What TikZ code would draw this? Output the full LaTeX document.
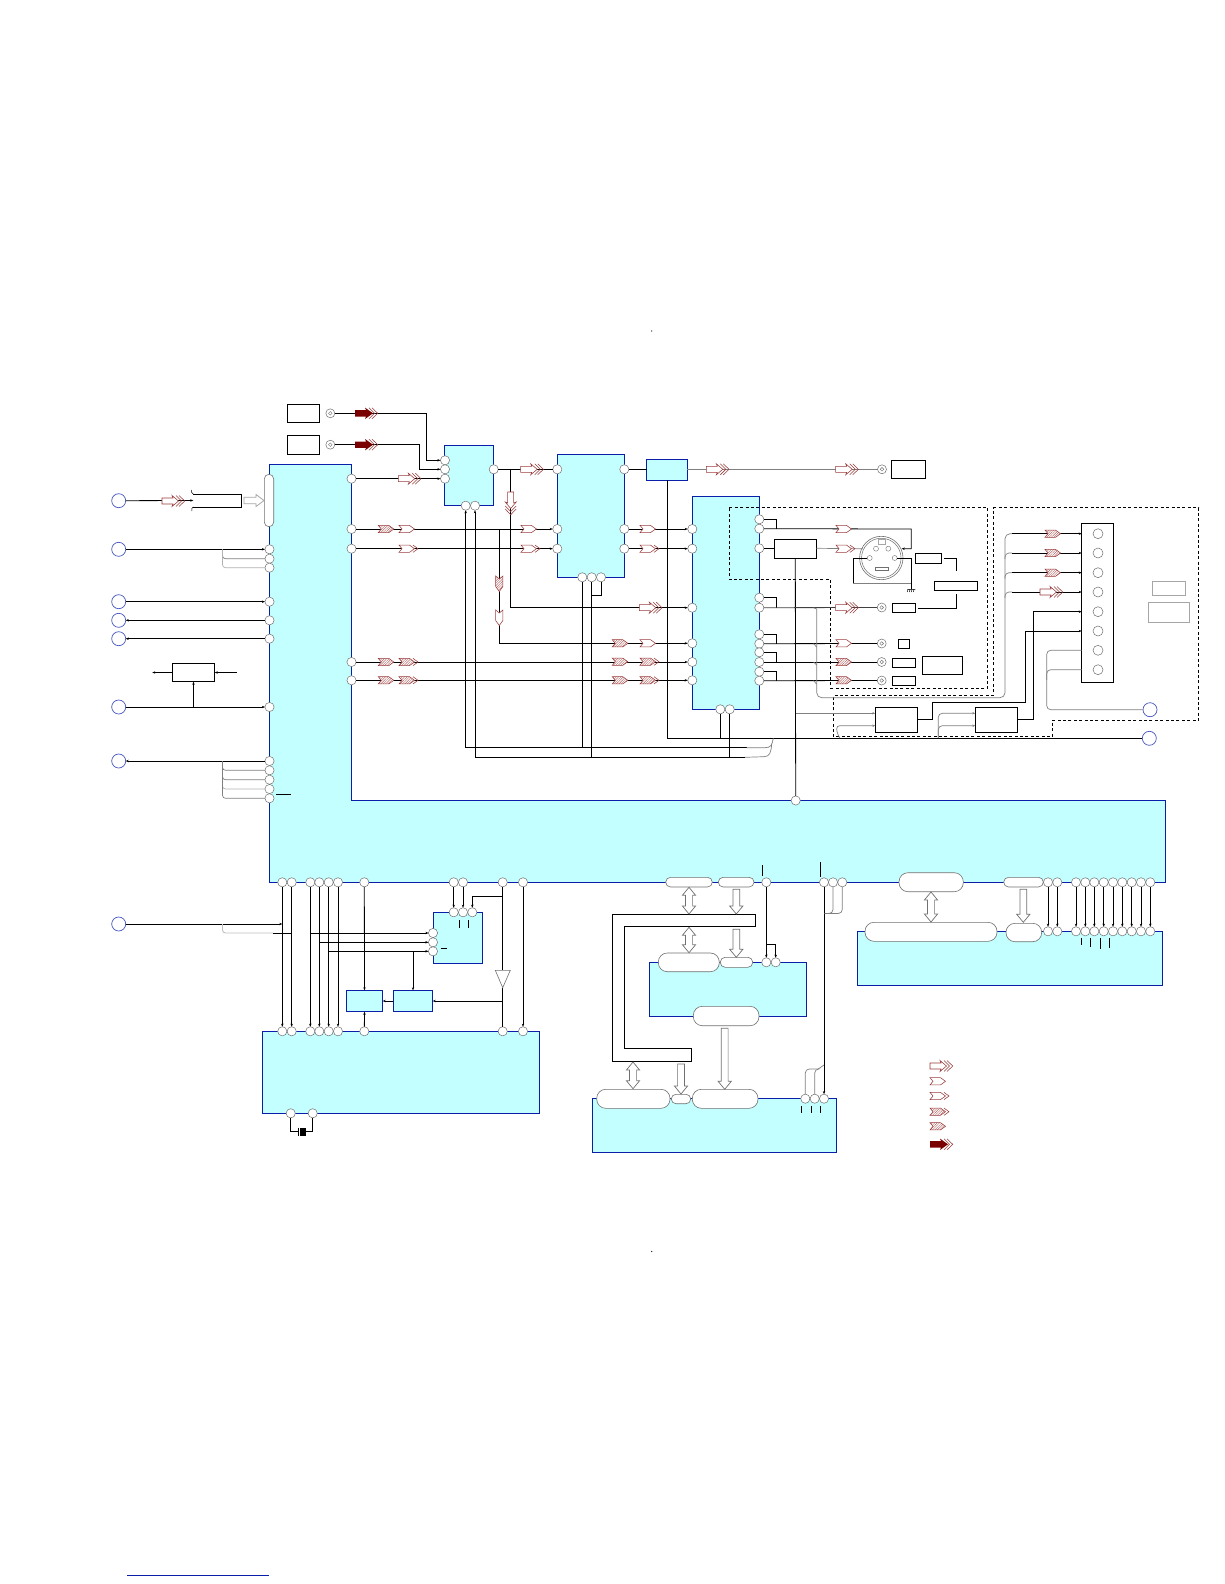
\documentclass[tikz,border=0pt]{standalone}
\usetikzlibrary{patterns.meta,arrows.meta,calc}
\definecolor{blkfill}{HTML}{C4FFFF}
\definecolor{blkline}{HTML}{0A1EAA}
\definecolor{sigred}{HTML}{9A3A3A}
\definecolor{hatchred}{HTML}{B86A6A}
\definecolor{darkred}{HTML}{7A0000}
\definecolor{portgray}{HTML}{707070}
\tikzset{
  wire/.style={draw=black,line width=.8pt},
  wa/.style={wire,-{Stealth[length=3pt,width=2.4pt]}},
  gwire/.style={draw=black!50,line width=.7pt},
  blk/.style={draw=blkline,fill=blkfill,line width=.9pt,inner sep=0pt,outer sep=0pt},
  plainbox/.style={draw=black,fill=white,line width=.8pt,inner sep=0pt,outer sep=0pt},
  graybox/.style={draw=black!35,fill=white,line width=.8pt,inner sep=0pt,outer sep=0pt},
  pill/.style={draw=portgray,fill=white,line width=.6pt,inner sep=0pt,outer sep=0pt},
  port/.style={circle,draw=portgray,fill=white,line width=.5pt,minimum size=9.2pt,inner sep=0pt,outer sep=0pt},
  offpage/.style={circle,draw=blkline!75,fill=white,line width=.7pt,minimum size=14pt,inner sep=0pt,outer sep=0pt},
  coax/.style={circle,draw=portgray,fill=white,line width=.5pt,minimum size=9pt,inner sep=0pt,outer sep=0pt},
  pin/.style={circle,draw=portgray,fill=white,line width=.4pt,minimum size=5pt,inner sep=0pt,outer sep=0pt},
  dashregion/.style={draw=black,line width=.8pt,dash pattern=on 3pt off 2.4pt},
  busarrow/.style={draw=portgray,fill=white,line width=.7pt},
  sig/.style={draw=sigred,line width=.55pt},
  hatch/.style={pattern={Lines[angle=45,distance=1.7pt,line width=.45pt]},pattern color=hatchred},
  sigA/.pic={\draw[sig,fill=white] (0,-3)--(11,-3)--(10,-5.5)--(16.5,0)--(10,5.5)--(11,3)--(0,3)--cycle;
             \draw[sig] (14,-5.5)--(19.5,0)--(14,5.5) (17,-5.5)--(22.7,0)--(17,5.5);},
  sigB/.pic={\draw[sig,fill=white] (0,-3.6)--(10.5,-3.6)--(15.5,0)--(10.5,3.6)--(0,3.6)--(3,0)--cycle;},
  sigC/.pic={\draw[sig,fill=white] (0,-3.6)--(10.5,-3.6)--(15.5,0)--(10.5,3.6)--(0,3.6)--(3,0)--cycle;
             \draw[sig] (14,-3.6)--(19,0)--(14,3.6);},
  sigD/.pic={\path[fill=white] (0,-3.6)--(10.5,-3.6)--(15.5,0)--(10.5,3.6)--(0,3.6)--(3,0)--cycle;
             \draw[sig,hatch] (0,-3.6)--(10.5,-3.6)--(15.5,0)--(10.5,3.6)--(0,3.6)--(3,0)--cycle;
             \draw[sig] (14,-3.6)--(19,0)--(14,3.6);},
  sigE/.pic={\path[fill=white] (0,-3.6)--(10.5,-3.6)--(15.5,0)--(10.5,3.6)--(0,3.6)--(3,0)--cycle;
             \draw[sig,hatch] (0,-3.6)--(10.5,-3.6)--(15.5,0)--(10.5,3.6)--(0,3.6)--(3,0)--cycle;},
  sigF/.pic={\draw[sig] (14,-5.5)--(19.5,0)--(14,5.5) (17,-5.5)--(22.7,0)--(17,5.5);
             \fill[darkred] (0,-3.2)--(11,-3.2)--(10,-5.7)--(18,0)--(10,5.7)--(11,3.2)--(0,3.2)--cycle;},
}
% box from two corners: style, name, x1, y1, x2, y2
\newcommand{\boxat}[6]{\node[#1,minimum width={#5pt-#3pt},minimum height={#6pt-#4pt}] (#2) at ({(#3+#5)/2},{(#4+#6)/2}) {};}
% hollow bus arrows
\newcommand{\downarr}[3]{\draw[busarrow] (#1-3.4,#2)--(#1+3.4,#2)--(#1+3.4,#3-8)--(#1+6.6,#3-8)--(#1,#3)--(#1-6.6,#3-8)--(#1-3.4,#3-8)--cycle;}
\newcommand{\dblarr}[3]{\draw[busarrow] (#1,#2)--(#1+6.6,#2+8)--(#1+3.6,#2+8)--(#1+3.6,#3-8)--(#1+6.6,#3-8)--(#1,#3)--(#1-6.6,#3-8)--(#1-3.6,#3-8)--(#1-3.6,#2+8)--(#1-6.6,#2+8)--cycle;}
\begin{document}
\begin{tikzpicture}[x=1pt,y=-1pt]
\useasboundingbox (0,0) rectangle (1224,1584);

% ---------- blocks ----------
\draw[draw=blkline,fill=blkfill,line width=.9pt] (269.5,464.5)--(351.5,464.5)--(351.5,800.5)--(1165.5,800.5)--(1165.5,882.3)--(269.5,882.3)--cycle;
\boxat{blk}{sB}{444.3}{445.3}{493.3}{505.5}
\boxat{blk}{bB}{557.3}{454.3}{624.3}{577.3}
\boxat{blk}{tB}{646.7}{459.3}{687.3}{480.3}
\boxat{blk}{cB}{692.3}{496.7}{759.3}{709.3}
\boxat{blk}{dB}{433.3}{912.3}{482.3}{963.3}
\boxat{blk}{eB}{346.3}{990.3}{382.7}{1011.7}
\boxat{blk}{fB}{393.3}{990.3}{432.7}{1011.7}
\boxat{blk}{lB}{262.3}{1031.3}{539.3}{1113.3}
\boxat{blk}{gB}{649.3}{962.3}{806.7}{1016.3}
\boxat{blk}{hB}{592.3}{1098.3}{836.7}{1152.7}
\boxat{blk}{iB}{857.3}{931.3}{1162.7}{985.3}

% ---------- dashed regions ----------
\draw[dashregion] (729.3,507.3)--(987.7,507.3)--(987.7,688.3)--(830.7,688.3)--(830.7,579.3)--(729.3,579.3)--cycle;
\draw[dashregion] (993.3,507.7)--(1198.7,507.7)--(1198.7,720.3)--(1052.3,720.3)--(1052.3,736.7)--(833.3,736.7)--(833.3,695.3)--(993.3,695.3)--cycle;

% ---------- plain boxes ----------
\boxat{plainbox}{top1}{287.3}{404.3}{319.7}{422.7}
\boxat{plainbox}{top2}{287.3}{435.3}{319.7}{454.3}
\boxat{plainbox}{top3}{891.7}{460.3}{925}{478.3}
\boxat{plainbox}{midL}{172.3}{663.3}{214.7}{681.7}
\boxat{plainbox}{sBuf}{774.3}{539.3}{816.3}{558.3}
\boxat{plainbox}{r1}{892.3}{603.3}{915.7}{612.3}
\boxat{plainbox}{r2}{898.3}{639.7}{909.7}{648.7}
\boxat{plainbox}{r3}{892.3}{658.3}{915.7}{667.7}
\boxat{plainbox}{r4}{892.3}{676.3}{915.7}{685.7}
\boxat{plainbox}{r5}{922.3}{656.3}{962.7}{674.3}
\boxat{plainbox}{s1}{915.3}{553.3}{941.7}{563.3}
\boxat{plainbox}{s2}{934.3}{581.3}{977.3}{590.3}
\boxat{plainbox}{aB}{875.3}{707.3}{917.7}{732.3}
\boxat{plainbox}{zB}{975.3}{707.3}{1017.7}{732.3}
\boxat{plainbox}{conn}{1081.7}{523.3}{1113.3}{682.3}
\boxat{graybox}{g1}{1152.3}{581.7}{1185}{595}
\boxat{graybox}{g2}{1148.3}{602.3}{1189.3}{622.3}
\node[inner sep=0pt,minimum width=48pt,minimum height=12.4pt] (inBox) at (217.5,500.5) {};
\draw[wire] (inBox.north west)--(inBox.north east)--(inBox.south east)--(inBox.south west);
\draw[wire,line width=.5pt] (inBox.north west) ..controls (192,494.3) and (191,491) .. (191.5,490)
  (inBox.south west) ..controls (192,506.7) and (191,510) .. (191.8,511);

% ---------- pills ----------
\boxat{pill,rounded corners=4.6pt}{pV}{264.3}{474.3}{273.7}{526.7}
\boxat{pill,rounded corners=4.8pt}{p1}{665.7}{877.3}{712.3}{887}
\boxat{pill,rounded corners=4.8pt}{p2}{718.3}{877.3}{754}{887}
\boxat{pill,rounded corners=9pt}{p3}{899}{872.7}{963.3}{891.7}
\boxat{pill,rounded corners=4.8pt}{p4}{1003.7}{877.3}{1043.3}{887}
\boxat{pill,rounded corners=9pt}{p5}{658.3}{953}{719.3}{971.7}
\boxat{pill,rounded corners=4.8pt}{p6}{720.3}{957.3}{752.7}{967.3}
\boxat{pill,rounded corners=9pt}{p7}{693.3}{1006.3}{759}{1025.7}
\boxat{pill,rounded corners=9pt}{p8}{596.7}{1089.3}{670}{1108.3}
\boxat{pill,rounded corners=4.6pt}{p9}{671.3}{1094.3}{690.7}{1103.7}
\boxat{pill,rounded corners=9pt}{p10}{692.3}{1089.3}{758}{1108.3}
\boxat{pill,rounded corners=9pt}{p11}{865}{922.3}{997}{941.3}
\boxat{pill,rounded corners=9pt}{p12}{1006}{923.3}{1041.7}{941.7}

% ---------- bus shape and bus arrows ----------
\draw[draw=black,fill=white,line width=.9pt] (612.3,914.3)--(755.7,914.3)--(755.7,926.3)--(624.3,926.3)--(624.3,1048.7)--(691.3,1048.7)--(691.3,1061.3)--(612.3,1061.3)--cycle;
\dblarr{689}{887.3}{914}
\downarr{736.3}{889.3}{914}
\dblarr{689}{927.3}{952.7}
\downarr{736.3}{929.3}{957.3}
\downarr{724.7}{1028.3}{1089.3}
\downarr{681}{1064}{1094}
\dblarr{633}{1062}{1088.7}
\dblarr{931}{892}{922}
\downarr{1023.3}{889.3}{922.3}
\draw[draw=black!35,fill=white,line width=.8pt] (244,497.3)--(256,497.3)--(256,494.5)--(264,500.5)--(256,506.5)--(256,503.7)--(244,503.7)--cycle;

% ---------- ports ----------
\foreach \n/\x/\y in {
  mL1/269.5/549.3,mL2/269.5/558.7,mL3/269.5/567.7,mL4/269.5/601.7,mL5/269.5/620.3,mL6/269.5/638.7,mL7/269.5/707,
  mL8/269.5/761,mL9/269.5/770.3,mL10/269.5/779.7,mL11/269.5/789,mL12/269.5/798.3,
  mR1/351.5/478.7,mR2/351.5/529,mR3/351.5/548.7,mR4/351.5/662,mR5/351.5/680.3,mT/795.7/800.5,
  sL1/445/460.3,sL2/445/469.3,sL3/445/478.7,sR/493.7/469.3,sB1/465.7/505.7,sB2/475/505.7,
  bL1/557.3/469.3,bL2/557.3/529,bL3/557.3/548.7,bR1/624.3/469.3,bR2/624.3/529,bR3/624.3/548.7,
  bB1/582.3/577.3,bB2/591.7/577.3,bB3/601/577.3,
  cL1/692.3/529,cL2/692.3/548.7,cL3/692.3/607.7,cL4/692.3/643.3,cL5/692.3/662,cL6/692.3/680.3,
  cR1/759.3/519.3,cR2/759.3/528.7,cR3/759.3/548.3,cR4/759.3/597.7,cR5/759.3/607.7,cR6/759.3/634.3,
  cR7/759.3/643.7,cR8/759.3/652.3,cR9/759.3/662,cR10/759.3/671.7,cR11/759.3/680.7,
  cB1/720.3/709.3,cB2/729.7/709.3,
  dL1/433/933,dL2/433/942.3,dL3/433/951.3,dT1/453.7/912.3,dT2/463/912.3,dT3/472.3/912.3,
  xA/290.7/1113.3,xB/312.7/1113.3,
  gP1/766.3/962.3,gP2/775.7/962.3,hP1/805.3/1098.7,hP2/814.7/1098.7,hP3/824/1098.7,
  mD1/766.3/882.3,mD2/824/882.3,mD3/833/882.3,mD4/842.3/882.3}
  {\node[port] (\n) at (\x,\y) {};}
\foreach \n/\x in {a/282.3,b/291.7,c/310.3,d/319.3,e/328.7,f/338,g/364.3,j/502.7,k/523}
  {\node[port] (mB\n) at (\x,882.3) {};\node[port] (lP\n) at (\x,1031.3) {};}
\node[port] (mBh) at (453.7,882.3) {};
\node[port] (mBi) at (463,882.3) {};
\foreach \n/\x in {a/1048,b/1057.3,c/1076,d/1085.3,e/1094.3,f/1103.7,g/1113,h/1122.3,m/1131.7,n/1141,o/1150.3}
  {\node[port] (mC\n) at (\x,882.3) {};\node[port] (iP\n) at (\x,931.3) {};}
\foreach \n/\y in {1/533.7,2/553,3/572.7,4/592,5/611.7,6/631,7/650.3,8/669.7}
  {\node[port,minimum size=10pt] (cn\n) at (1098,\y) {};}
\foreach \n/\x/\y in {b1/118.7/500.7,b2/118.7/549.3,b3/118.7/601.7,b4/118.7/620.3,b5/118.7/638.7,b6/118.7/707,b7/118.7/761,b8/118.7/924,b9/1150/709.7,b10/1149.3/738.3}
  {\node[offpage] (\n) at (\x,\y) {};}
\foreach \n/\x/\y in {co1/330.3/413.3,co2/330.3/444.7,co3/882/469.3,co4/881.7/607.5,co5/881.7/643.5,co6/881.7/662,co7/881.7/680.5}
  {\node[coax] (\n) at (\x,\y) {};\draw[draw=portgray,line width=.4pt] (\n.center) circle (1.8);}

% ---------- S-video connector ----------
\node[circle,draw=portgray,fill=white,line width=.6pt,minimum size=43.4pt,inner sep=0pt] (sv) at (881.3,558) {};
\node[circle,draw=portgray,line width=.5pt,minimum size=39.5pt,inner sep=0pt] at (881.3,558) {};
\node[pin] (svA) at (876,548.7) {};
\node[pin] (svB) at (888.3,548.7) {};
\node[pin] (svC) at (869.7,558) {};
\node[pin] (svD) at (894.7,558) {};
\draw[draw=black!35,fill=white,line width=.5pt] (878.7,539)rectangle(885.3,544.3);
\draw[draw=portgray,fill=white,line width=.6pt] (875.3,567.3)rectangle(888.7,570.7);

% ---------- wires: top ----------
\coordinate (t1) at (426.3,413.3);
\coordinate (t2) at (419.3,444.7);
\draw[wa] (co1) -- (t1) |- (sL1);
\draw[wa] (co2) -- (t2) |- (sL2);
\draw[wa] (mR1) -- (sL3);
\draw[wa] (b1) -- (inBox.west);
\draw[wire] (sR) -- (bL1);
\draw[wire] (bR1) -- (bR1 -| tB.west);
\draw[gwire] (tB.east |- bR1) -- (co3);
\coordinate (k1) at (510.7,469.3);
\coordinate (k2) at (499.3,529);
\draw[wa] (k1) |- (cL3);
\draw[wa] (k2) |- (cL4);
\draw[wa] (mR2) -- (bL2);
\draw[wa] (mR3) -- (bL3);
\draw[wa] (mR4) -- (cL5);
\draw[wa] (mR5) -- (cL6);
\draw[wa] (bR2) -- (cL1);
\draw[wa] (bR3) -- (cL2);

% ---------- wires: left ----------
\coordinate (jA) at (222.5,549.3);
\coordinate (jB) at (222.5,761);
\coordinate (jC) at (222.5,924);
\draw[wa] (b2) -- (mL1);
\draw[gwire,rounded corners=3pt] (jA) |- (mL2);
\draw[draw=black!30,line width=.7pt,rounded corners=3pt] (jA) |- (mL3);
\draw[wa] (b3) -- (mL4);
\draw[wa] (mL5) -- (b4);
\draw[wa] (mL6) -- (b5);
\draw[wa] (b6) -- (mL7);
\draw[wa] (mL8) -- (b7);
\draw[gwire,rounded corners=3pt] (jB) |- (mL9);
\draw[gwire,rounded corners=3pt] (jB) |- (mL10);
\draw[draw=black!30,line width=.7pt,rounded corners=3pt] (jB) |- (mL11);
\draw[gwire,rounded corners=3pt] (jB) |- (mL12);
\draw[wire] (276,794.3) -- (290.7,794.3);
\draw[wire,-{Stealth[length=3pt,width=2.4pt]}] (midL.west) -- (152.3,672.5);
\draw[wire,-{Stealth[length=3pt,width=2.4pt]}] (236.7,672.5) -- (midL.east);
\draw[wa] (midL.south |- b6) -- (midL.south);

% ---------- wires: buses below blocks ----------
\coordinate (busL) at (746.7,747.7);
\coordinate (busM) at (745,757.3);
\coordinate (b3j) at (591.7,595);
\draw[wa] (sB1 |- busL) -- (sB1);
\draw[wa] (sB2 |- busM) -- (sB2);
\draw[wire] (sB1 |- busL) -- (busL);
\draw[wire] (sB2 |- busM) -- (busM);
\draw[wire] (bB1) -- (bB1 |- busL);
\draw[wire] (bB2) -- (bB2 |- busM);
\draw[wire] (bB3) |- (b3j);
\draw[wire] (tB.south) |- (b10);
\draw[wire] (cB1) -- (cB1 |- b10);
\draw[wire] (cB2) -- (cB2 |- busM);
\coordinate (bj) at (773.3,738.3);
\coordinate (bjb) at (771.7,744);
\draw[gwire] (bj) ..controls (772,745) and (771,747.7) .. (765,747.7) -- (busL);
\draw[gwire] (bjb) ..controls (771,752) and (770,756.7) .. (764,756.7) -- (busM);

% ---------- wires: right of block C ----------
\foreach \a/\b in {cR1/cR2,cR4/cR5,cR6/cR7,cR8/cR9,cR10/cR11}{
  \coordinate (st) at (776.7,0);
  \draw[wire] (\a) -| (st |- \b);
}
\draw[wire] (cR3) -- (cR3 -| sBuf.west);
\coordinate (q1) at (911.3,529);
\coordinate (svEdge) at (901.7,548.7);
\draw[wa] (cR2) -- (q1) |- (svEdge);
\coordinate (svIn) at (863,548.7);
\draw[gwire] (sBuf.east |- cR3) -- (svIn);
\draw[wire] (sBuf.south) -- (mT);
\draw[draw=black!75,line width=.8pt] (cR5) -- (co4);
\draw[wire] (cR7) -- (co5);
\draw[wire] (cR9) -- (co6);
\draw[wire] (cR11) -- (co7);
% S-video pins to ground
\coordinate (q2) at (853.3,558);
\coordinate (q3) at (853.3,583);
\coordinate (q4) at (911.3,583);
\coordinate (q5) at (911.3,558);
\coordinate (gnd) at (911.3,589.3);
\draw[wire] (svC) -- (q2) -- (q3);
\draw[gwire] (q3) -- (q4);
\draw[wire] (svD) -- (q5) -- (gnd);
\draw[line width=.5pt] (907.3,589.3) -- (915.3,589.3)
  (908,589.3)--(907.3,592) (910,589.3)--(909.3,592) (912,589.3)--(911.3,592) (914,589.3)--(913.3,592);
\coordinate (q6) at (956.3,558.3);
\coordinate (q7) at (956.3,571);
\coordinate (q8) at (944.3,558.3);
\coordinate (q9) at (956.3,594.3);
\coordinate (q10) at (918.3,608.3);
\draw[wire] (q8) -- (q6) -- (q7);
\draw[wire] (q10) -- (q10 -| q9) -- (q9);

% ---------- wires: gray bus to connector ----------
\coordinate (g1a) at (816.7,609);
\coordinate (g1b) at (1005,697.7);
\coordinate (g1c) at (1012,533.7);
\draw[gwire,rounded corners=5pt] (g1a) |- (g1b) |- (g1c);
\draw[wa] (g1c) -- (g1c -| conn.west);
\foreach \n in {2,3,4}{
  \coordinate (e\n) at (1012,0);
  \coordinate (f\n) at (1005,0);
  \draw[gwire,rounded corners=4pt] ($(f\n |- cn\n)+(0,6)$) |- (e\n |- cn\n);
  \draw[wa] (e\n |- cn\n) -- (cn\n -| conn.west);
}
\draw[gwire] (813.5,607.7) -- (g1a);
\draw[gwire] (813.5,643.7) -- (816.7,647);
\draw[gwire] (813.5,662) -- (816.7,665);
\draw[gwire] (813.5,680.7) -- (816.7,684);
\coordinate (g7) at (1046.7,680);
\draw[gwire,rounded corners=4pt] (cn7 -| conn.west) -| (g7) |- (b9);
\draw[gwire,rounded corners=4pt] (cn8 -| conn.west) -| (g7);
% blocks A and Z
\coordinate (aIn) at (795.7,713.3);
\coordinate (aLoop) at (836.7,732);
\coordinate (aEnd) at (840,738.3);
\coordinate (aFoot) at (841,725.7);
\draw[gwire,-{Stealth[length=3pt,width=2.4pt]}] (aIn) -- (aIn -| aB.west);
\draw[gwire,rounded corners=3pt,-{Stealth[length=3pt,width=2.4pt]}] (aEnd) -- (aLoop) |- (aB.west |- aFoot);
\coordinate (zIn) at (945,713.3);
\coordinate (zEnd) at (938.3,738);
\coordinate (zFoot) at (945,725.7);
\draw[gwire,rounded corners=4pt,-{Stealth[length=3pt,width=2.4pt]}] (zEnd) |- (zB.west |- zIn);
\draw[gwire,rounded corners=4pt,-{Stealth[length=3pt,width=2.4pt]}] (zEnd) |- (zB.west |- zFoot);
\coordinate (o1) at (932.3,702.3);
\coordinate (o2) at (1025.3,631);
\coordinate (o3) at (1033.3,611.7);
\draw[wa] (aB.east) -| (o1) -| (o2) -- (o2 -| conn.west);
\draw[wa] (zB.east) -| (o3) -- (o3 -| conn.west);

% ---------- wires: below main block ----------
\foreach \n in {a,b,c,d,e,f,k}{\draw[wa] (mB\n) -- (lP\n);}
\draw[wa] (mBh) -- (dT1);
\draw[wa] (mBi) -- (dT2);
\coordinate (kk) at (502.7,896.7);
\draw[wa] (kk) -| (dT3);
\draw[wa] (b8) -- (mBa |- b8);
\coordinate (y1) at (273,933);
\draw[draw=black!25,line width=.9pt,rounded corners=3pt] (jC) |- (y1);
\draw[wire] (y1) -- (y1 -| mBb);
\draw[wa] (mBc |- dL1) -- (dL1);
\draw[wa] (mBd |- dL2) -- (dL2);
\draw[wa] (mBe |- dL3) -- (dL3);
\draw[wa] (fB.north |- dL3) -- (fB.north);
\draw[wa] (fB.west) -- (eB.east);
\coordinate (triT) at (502.7,970.3);
\coordinate (triB) at (502.7,987.7);
\draw[wire] (mBj) -- (triT);
\draw[wire] (triB) -- (lPj);
\draw[wa] (fB.east -| triT) -- (fB.east);
\draw[draw=portgray,fill=white,line width=.6pt] (495.3,970.3)--(510.3,970.3)--(triB)--cycle;
\draw[wa] (mBg) -- (eB.north);
\draw[wa] (lPg) -- (eB.south);
% crystal
\coordinate (xa) at (290.7,1131.7);
\coordinate (xb) at (312.7,1131.7);
\coordinate (xc) at (298.7,1131.7);
\coordinate (xd) at (305.7,1131.7);
\draw[wire] (xA) -- (xa) -- (xc);
\draw[wire] (xB) -- (xb) -- (xd);
\draw[wire] (298.7,1127.5) -- (298.7,1136);
\fill[black] (300,1127.7) rectangle (305.7,1135.7);
% ticks
\draw[wire] (459.3,920)--(459.3,928) (468.3,920)--(468.3,928) (440.7,948.3)--(446.7,948.3);
\draw[wire] (762.7,865)--(762.7,876) (820.3,862)--(820.3,876.7);
\draw[wire] (801.7,1106)--(801.7,1113) (811.3,1106)--(811.3,1113) (820.3,1106)--(820.3,1113);
\draw[wire] (1081.7,938)--(1081.7,945) (1090.7,938)--(1090.7,947) (1100.7,938)--(1100.7,949) (1109.7,938)--(1109.7,948);

% centre column
\draw[wa] (mD1) -- (gP1);
\coordinate (jc) at (766.3,944.3);
\draw[wa] (jc) -| (gP2);
\draw[wa] (mD2) -- (hP3);
\coordinate (jt) at (824.5,913.5);
\coordinate (jh) at (818,1069);
\coordinate (jm) at (824,1065);
\draw[gwire,rounded corners=4pt] (mD3) |- (jt);
\draw[gwire,rounded corners=4pt] (mD4) |- (jt);
\draw[gwire,rounded corners=4pt] (hP1) |- (jh);
\draw[gwire,rounded corners=4pt] (hP2) |- (jh);
\draw[gwire] (jh) -- (jm);
\foreach \n in {a,b,c,d,e,f,g,h,m,n,o}{\draw[wa] (mC\n) -- (iP\n);}

% ---------- signal glyphs ----------
\pic at (162,501) {sigA};
\pic at (355,413.3) {sigF};
\pic at (355,444.7) {sigF};
\pic at (398.3,478.7) {sigA};
\pic at (378.3,529) {sigE};
\pic at (399,529) {sigB};
\pic at (399,548.7) {sigC};
\pic at (378.3,662) {sigE};
\pic at (399,662) {sigD};
\pic at (378.3,680.3) {sigE};
\pic at (399,680.3) {sigD};
\pic[rotate=-90] at (510.7,492) {sigA};
\pic[rotate=-90] at (499.3,576) {sigE};
\pic[rotate=-90] at (499.3,610) {sigB};
\pic at (520.7,469.3) {sigA};
\pic at (521,529) {sigB};
\pic at (521,548.7) {sigC};
\pic at (640,529) {sigB};
\pic at (640,548.7) {sigC};
\pic at (706.3,469.3) {sigA};
\pic at (835.7,469.3) {sigA};
\pic at (639.3,607.7) {sigA};
\pic at (835.7,607.7) {sigA};
\pic at (612.3,643.3) {sigE};
\pic at (640,643.3) {sigB};
\pic at (612.3,661.7) {sigE};
\pic at (640,661.7) {sigD};
\pic at (612.3,680.3) {sigE};
\pic at (640,680.3) {sigD};
\pic at (836,529) {sigB};
\pic at (836,548.7) {sigC};
\pic at (836,643.3) {sigB};
\pic at (836,662) {sigE};
\pic at (836,680.3) {sigE};
\pic at (1045,533.7) {sigE};
\pic at (1045,553) {sigE};
\pic at (1045,572.7) {sigE};
\pic at (1040,592) {sigA};
% legend
\pic at (930,1066) {sigA};
\pic at (930,1081.3) {sigB};
\pic at (930,1096) {sigC};
\pic at (930,1111.7) {sigD};
\pic at (930,1126.3) {sigE};
\pic at (930,1144.3) {sigF};

% ---------- page marks ----------
\fill[black] (651.7,331) circle (.6);
\fill[black] (651.7,1251.5) circle (.6);
\draw[draw=blkline,line width=.8pt] (127,1575) -- (268.7,1575);
\end{tikzpicture}
\end{document}
